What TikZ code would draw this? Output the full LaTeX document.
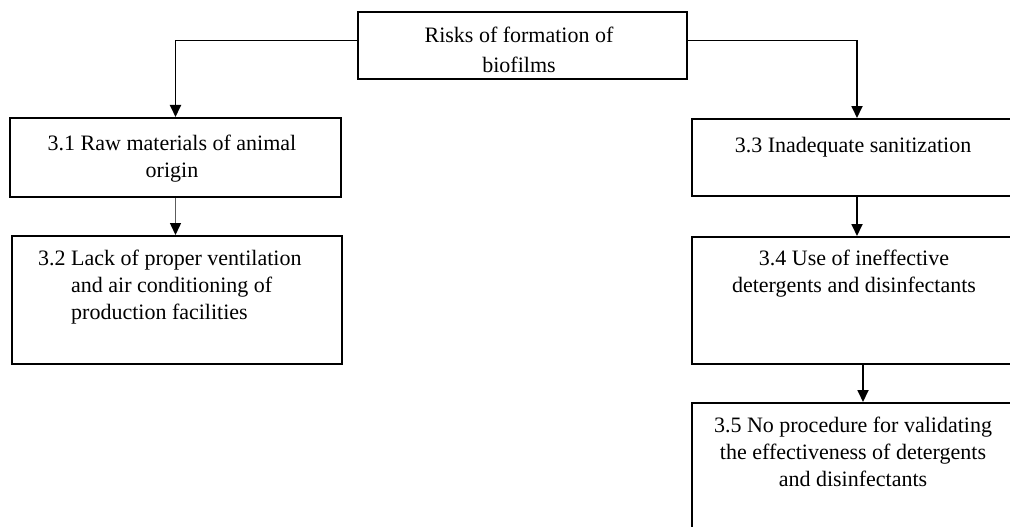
\documentclass[tikz,border=0pt]{standalone}
\usepackage{fontspec}
\setmainfont{Liberation Serif}
\usepackage{xcolor}
\usepackage{tikz}
\usetikzlibrary{arrows.meta}
\definecolor{ink}{HTML}{000000}
\definecolor{greyline}{HTML}{5C5C5C}
\definecolor{paper}{HTML}{FFFFFF}
\tikzset{
  box/.style={draw=ink, line width=2pt, anchor=north west, inner sep=0pt, fill=paper},
  txt/.style={text=ink, font=\fontsize{22}{27}\selectfont, align=center, inner sep=0pt, anchor=north},
  arr/.style={draw=ink, line width=1.8pt, -{Triangle[length=12pt,width=11pt,color=ink]}},
  arrg/.style={arr, draw=greyline, line width=1.5pt},
}

\begin{document}
\begin{tikzpicture}[x=1pt, y=-1pt]
  \useasboundingbox[fill=paper] (0,0) rectangle (1010,527);
  % boxes
  \node[box, minimum width=329pt, minimum height=67pt] (risk) at (357,11) {};
  \node[box, minimum width=331pt, minimum height=79pt] (raw) at (9,117) {};
  \node[box, minimum width=330pt, minimum height=128pt] (vent) at (11,235) {};
  \node[box, minimum width=330pt, minimum height=77pt] (sanit) at (691,118) {};
  \node[box, minimum width=330pt, minimum height=127pt] (deterg) at (691,236) {};
  \node[box, minimum width=330pt, minimum height=140pt] (valid) at (691,402) {};
  % texts
  \node[txt, font=\fontsize{22}{30}\selectfont] (risktxt) at (519,27) {Risks of formation of\\biofilms};
  \node[txt] (rawtxt) at (172,135) {3.1 Raw materials of animal\\origin};
  \node[txt, anchor=base west, align=left] (venttxt) at (38,265)
    {3.2 \begin{tabular}[t]{@{}l@{}}Lack of proper ventilation\\and air conditioning of\\production facilities\end{tabular}};
  \node[txt] (sanittxt) at (853,137) {3.3 Inadequate sanitization};
  \node[txt] (detergtxt) at (854,250) {3.4 Use of ineffective\\detergents and disinfectants};
  \node[txt] (validtxt) at (853,417) {3.5 No procedure for validating\\the effectiveness of detergents\\and disinfectants};
  % connectors
  \draw[arr] ([yshift=5pt]risk.west) -| (raw.north);
  \draw[arr] ([yshift=5pt]risk.east) -| (sanit.north);
  \draw[arrg] (raw.south) -- (raw.south |- vent.north);
  \draw[arr] (sanit.south) -- (deterg.north);
  \draw[arr] ([xshift=6pt]deterg.south) -- ([xshift=6pt]valid.north);
\end{tikzpicture}
\end{document}
